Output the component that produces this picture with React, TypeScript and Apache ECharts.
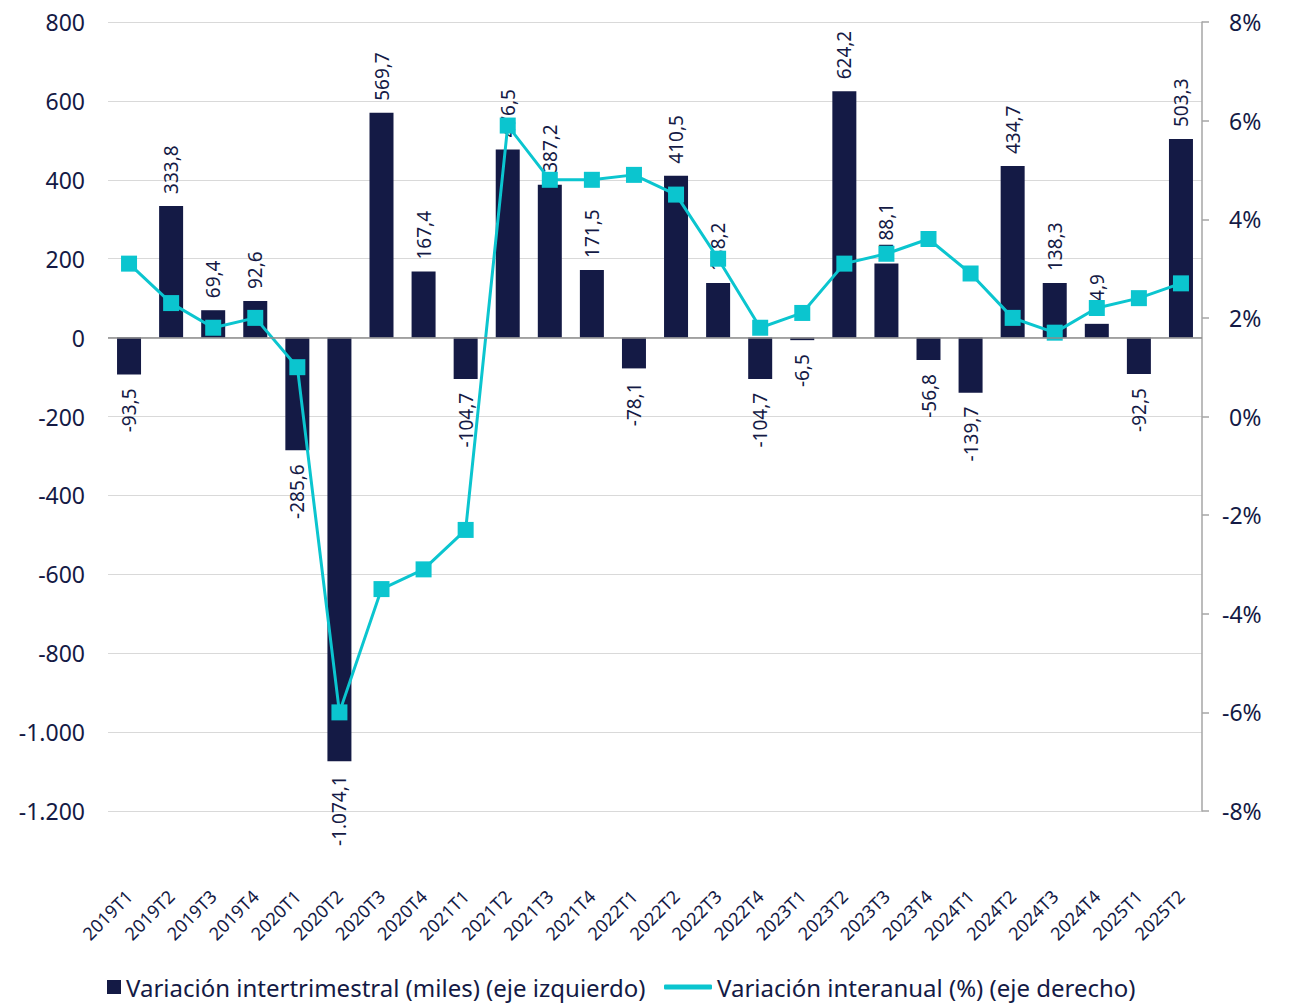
import React, { useEffect, useRef } from "react";
import * as echarts from "echarts";

const categories = [
  "2019T1", "2019T2", "2019T3", "2019T4",
  "2020T1", "2020T2", "2020T3", "2020T4",
  "2021T1", "2021T2", "2021T3", "2021T4",
  "2022T1", "2022T2", "2022T3", "2022T4",
  "2023T1", "2023T2", "2023T3", "2023T4",
  "2024T1", "2024T2", "2024T3", "2024T4",
  "2025T1", "2025T2",
];

const quarterlyChange = [
  -93.5, 333.8, 69.4, 92.6,
  -285.6, -1074.1, 569.7, 167.4,
  -104.7, 476.5, 387.2, 171.5,
  -78.1, 410.5, 138.2, -104.7,
  -6.5, 624.2, 188.1, -56.8,
  -139.7, 434.7, 138.3, 34.9,
  -92.5, 503.3,
];

const annualChange = [
  3.1, 2.3, 1.8, 2.0,
  1.0, -6.0, -3.5, -3.1,
  -2.3, 5.9, 4.8, 4.8,
  4.9, 4.5, 3.2, 1.8,
  2.1, 3.1, 3.3, 3.6,
  2.9, 2.0, 1.7, 2.2,
  2.4, 2.7,
];

const seriesNames = [
  "Variación intertrimestral (miles) (eje izquierdo)",
  "Variación interanual (%) (eje derecho)",
];

const NAVY = "#141a45";
const CYAN = "#0bc5cf";
const FONT = "Noto Sans";

function fmtEs(v: number, decimals: number): string {
  const neg = v < 0;
  const abs = Math.abs(v);
  const fixed = abs.toFixed(decimals);
  const [intPart, dec] = fixed.split(".");
  const withSep = intPart.replace(/\B(?=(\d{3})+(?!\d))/g, ".");
  return (neg ? "-" : "") + withSep + (dec !== undefined ? "," + dec : "");
}

export default function App() {
  const ref = useRef<HTMLDivElement>(null);

  useEffect(() => {
    if (!ref.current) return;
    const chart = echarts.init(ref.current, undefined, { renderer: "svg" });

    const barData = quarterlyChange.map((v) => ({
      value: v,
      label: v >= 0
        ? { position: "top", align: "left", verticalAlign: "middle", distance: 12 }
        : { position: "bottom", align: "right", verticalAlign: "middle", distance: 14 },
    }));

    chart.setOption({
      animation: false,
      textStyle: { fontFamily: FONT },
      grid: { left: 108, right: 88, top: 22, bottom: 194, containLabel: false },
      legend: [
        {
          data: [{ name: seriesNames[0], icon: "rect" }],
          left: 107,
          top: 974,
          padding: 0,
          itemWidth: 14,
          itemHeight: 14,
          textStyle: { color: NAVY, fontSize: 24, fontFamily: FONT, lineHeight: 26 },
        },
        {
          data: [{ name: seriesNames[1], icon: "roundRect" }],
          left: 664,
          top: 974,
          padding: 0,
          itemWidth: 48,
          itemHeight: 5,
          textStyle: { color: NAVY, fontSize: 24, fontFamily: FONT, lineHeight: 26 },
        },
      ],
      xAxis: {
        type: "category",
        data: categories,
        position: "bottom",
        axisLine: { show: false, onZero: false },
        axisTick: { show: false },
        axisLabel: {
          rotate: 45,
          margin: 82,
          color: NAVY,
          fontSize: 18,
          fontFamily: FONT,
          interval: 0,
        },
      },
      yAxis: [
        {
          type: "value",
          min: -1200,
          max: 800,
          interval: 200,
          axisLine: { show: false },
          axisTick: { show: false },
          splitLine: { show: true, lineStyle: { color: "#d9d9d9", width: 1.2 } },
          axisLabel: {
            color: NAVY,
            fontSize: 23,
            margin: 23,
            fontFamily: FONT,
            formatter: (v: number) => fmtEs(v, 0),
          },
        },
        {
          type: "value",
          min: -8,
          max: 8,
          interval: 2,
          position: "right",
          axisLine: { show: true, lineStyle: { color: "#a6a6a6", width: 1.5 } },
          axisTick: { show: true, inside: false, length: 7, lineStyle: { color: "#a6a6a6", width: 1.5 } },
          splitLine: { show: false },
          axisLabel: {
            color: NAVY,
            fontSize: 23,
            margin: 20,
            fontFamily: FONT,
            formatter: (v: number) => (v >= 0 ? "{p|" + v + "%}" : v + "%"),
            rich: {
              p: { color: NAVY, fontSize: 23, fontFamily: FONT, padding: [0, 0, 0, 7] },
            },
          },
        },
      ],
      series: [
        {
          name: seriesNames[0],
          type: "bar",
          yAxisIndex: 0,
          data: barData,
          barWidth: 24,
          itemStyle: { color: NAVY },
          label: {
            show: true,
            rotate: 90,
            color: NAVY,
            fontSize: 19,
            fontFamily: FONT,
            formatter: (p: any) => fmtEs(p.value, 1),
          },
          markLine: {
            silent: true,
            symbol: ["none", "none"],
            label: { show: false },
            lineStyle: { color: "#8c8c8c", width: 1.5, type: "solid" },
            data: [{ yAxis: 0 }],
          },
          z: 2,
        },
        {
          name: seriesNames[1],
          type: "line",
          yAxisIndex: 1,
          data: annualChange,
          symbol: "rect",
          symbolSize: 16,
          lineStyle: { color: CYAN, width: 3 },
          itemStyle: { color: CYAN },
          z: 3,
        },
      ],
    });

    return () => chart.dispose();
  }, []);

  return (
    <div
      ref={ref}
      style={{ width: 1290, height: 1005, position: "absolute", left: 0, top: 0 }}
    />
  );
}
